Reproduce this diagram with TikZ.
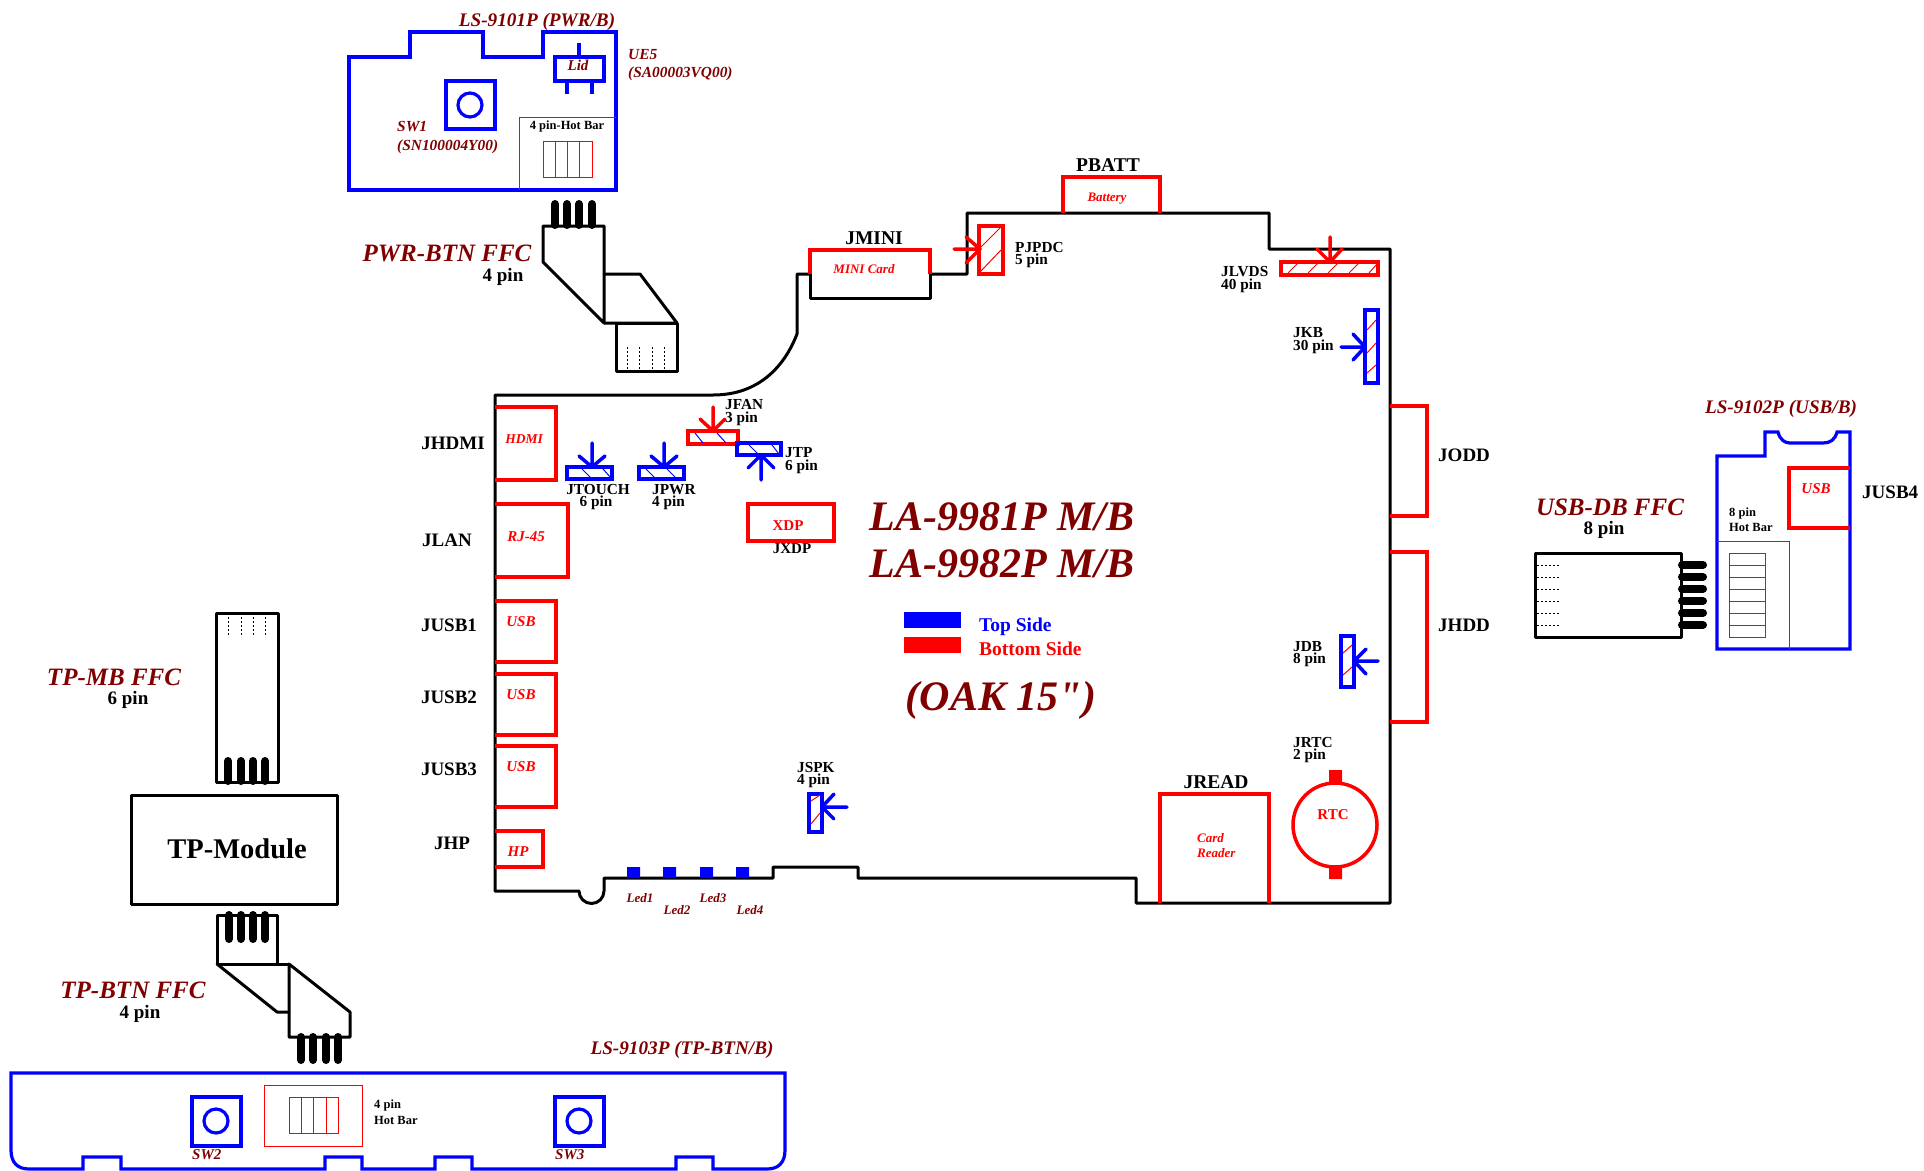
\documentclass[tikz,border=0pt]{standalone}
\usepackage{fontspec}
\setmainfont{Liberation Serif}
\newfontfamily\oakf{Liberation Serif}
\definecolor{dkred}{HTML}{800000}
\definecolor{pured}{HTML}{FF0000}
\definecolor{pureblue}{HTML}{0000FF}
\tikzset{
  txt/.style={inner sep=0pt,text height=#1*0.66pt,text depth=0pt},
  tb/.style={txt=#1,text=black,font=\bfseries\fontsize{#1}{#1}\selectfont},
  dr/.style={txt=#1,text=dkred,font=\bfseries\itshape\fontsize{#1}{#1}\selectfont},
  ri/.style={txt=#1,text=pured,font=\bfseries\itshape\fontsize{#1}{#1}\selectfont},
  rb/.style={txt=#1,text=pured,font=\bfseries\fontsize{#1}{#1}\selectfont},
  bb/.style={txt=#1,text=pureblue,font=\bfseries\fontsize{#1}{#1}\selectfont},
  blk/.style={draw=black,line width=3pt,line join=round,line cap=round},
  blu/.style={draw=pureblue,line width=3.2pt,line join=miter,line cap=square},
  rdl/.style={draw=pured,line width=3.2pt,line join=miter,line cap=butt},
  thinred/.style={draw=pured,line width=1pt},
  hatchr/.style={draw=pured,line width=1pt},
  hatchb/.style={draw=pureblue,line width=1pt},
  arrb/.style={draw=pureblue,line width=3.5pt,line cap=round,line join=round},
  arrr/.style={draw=pured,line width=3.5pt,line cap=round,line join=round},
  pinline/.style={draw=black,line width=8pt,line cap=round},
  ffcdash/.style={draw=black,line width=.8pt,dash pattern=on 2pt off 2pt},
}
\begin{document}
\begin{tikzpicture}[x=1pt,y=-1pt]
\useasboundingbox (0,0) rectangle (1924,1170);
% ---- main board outline
\draw[blk] (810,274) -- (797,274) -- (797,334) .. controls (785,365) and (760,395) .. (713,395)
  -- (495,395) -- (495,891) -- (579,891) arc[start angle=180,end angle=360,x radius=12.5,y radius=-12.5]
  -- (604,878) -- (773,878) -- (773,867) -- (858,867) -- (858,878) -- (1136,878) -- (1136,903)
  -- (1390,903) -- (1390,249) -- (1269,249) -- (1269,213) -- (967,213) -- (967,274) -- (930,274);
\draw[blk] (810,274) -- (810,298) -- (930,298) -- (930,274);
% ---- red edge connectors
\draw[rdl] (810,274) -- (810,250) -- (930,250) -- (930,274);
\draw[rdl] (1063,213) -- (1063,177) -- (1160,177) -- (1160,213);
\draw[rdl] (495,407) -- (556,407) -- (556,480) -- (495,480);
\draw[rdl] (495,504) -- (568,504) -- (568,577) -- (495,577);
\draw[rdl] (495,601) -- (556,601) -- (556,662) -- (495,662);
\draw[rdl] (495,674) -- (556,674) -- (556,735) -- (495,735);
\draw[rdl] (495,746) -- (556,746) -- (556,807) -- (495,807);
\draw[rdl] (495,831) -- (543,831) -- (543,867) -- (495,867);
\draw[rdl] (1390,406) -- (1427,406) -- (1427,516) -- (1390,516);
\draw[rdl] (1390,552) -- (1427,552) -- (1427,722) -- (1390,722);
\draw[rdl] (1160,903) -- (1160,794) -- (1269,794) -- (1269,903);
\draw[rdl] (748,504) rectangle (834,541);
\draw[draw=pured,line width=3.5pt] (1335,825) circle[radius=42];
\fill[pured] (1329,770) rectangle (1342,783) (1329,866) rectangle (1342,879);
% ---- LEDs and legend
\fill[pureblue] (627,867) rectangle (640,878) (663,867) rectangle (676,878) (700,867) rectangle (713,878) (736,867) rectangle (749,878);
\fill[pureblue] (904,612) rectangle (961,628);
\fill[pured] (904,637) rectangle (961,653);
% ---- small connectors
% PJPDC
\draw[rdl] (979,226) rectangle (1003,274);
\draw[hatchr] (980,248) -- (1001,227) (980,272) -- (1001,250);
\draw[arrr] (954,249) -- (980,249) (966,237) -- (980,249) -- (966,263);
% JLVDS
\draw[rdl] (1281,262) rectangle (1378,275);
\draw[hatchr] (1288,273) -- (1298,263) (1308,273) -- (1318,263) (1328,273) -- (1338,263) (1349,273) -- (1359,263) (1369,273) -- (1377,264);
\draw[arrr] (1330,237) -- (1330,262) (1317,249) -- (1330,262) -- (1342,249);
% JKB
\draw[blu] (1365,310) rectangle (1378,383);
\draw[hatchr] (1367,330) -- (1376,320) (1367,353) -- (1376,343) (1367,373) -- (1376,365);
\draw[arrb] (1341,347) -- (1365,347) (1353,334) -- (1365,347) -- (1353,360);
% JTOUCH
\draw[blu] (567,467) rectangle (612,479);
\draw[hatchb] (582,469) -- (591,478) (603,469) -- (611,478);
\draw[arrb] (592,443) -- (592,467) (579,456) -- (592,467) -- (605,456);
% JPWR
\draw[blu] (639,467) rectangle (684,479);
\draw[hatchb] (646,469) -- (655,478) (667,469) -- (676,478);
\draw[arrb] (664,443) -- (664,467) (651,456) -- (664,467) -- (677,456);
% JFAN
\draw[rdl] (688,431) rectangle (738,444);
\draw[hatchb] (695,433) -- (703,443) (717,433) -- (726,443);
\draw[arrr] (713,407) -- (713,431) (700,419) -- (713,431) -- (725,419);
% JTP
\draw[blu] (737,443) rectangle (781,455);
\draw[hatchb] (749,445) -- (758,454) (772,445) -- (779,454);
\draw[arrb] (761,480) -- (761,455) (748,468) -- (761,455) -- (774,468);
% JSPK
\draw[blu] (809,794) rectangle (822,832);
\draw[hatchr] (811,801) -- (820,795) (811,824) -- (820,813);
\draw[arrb] (847,807) -- (822,807) (834,794) -- (822,807) -- (834,819);
% JDB
\draw[blu] (1341,636) rectangle (1354,687);
\draw[hatchr] (1343,653) -- (1352,645) (1343,675) -- (1352,667);
\draw[arrb] (1378,661) -- (1354,661) (1366,649) -- (1354,661) -- (1366,674);
% ---- LS-9101P board
\draw[blu] (349,57) -- (410,57) -- (410,32) -- (483,32) -- (483,57) -- (543,57) -- (543,32) -- (616,32) -- (616,190) -- (349,190) -- cycle;
\draw[blu] (446,81) rectangle (495,129);
\draw[draw=pureblue,line width=3.2pt] (470,105) circle[radius=12];
\draw[blu] (555,57) rectangle (604,81);
\draw[blu] (579,43) -- (579,57) (567,81) -- (567,94) (592,81) -- (592,94);
\draw[thinred] (519,190) -- (519,117) -- (616,117);
\draw[thinred] (543,141) rectangle (592,177) (555,141) -- (555,177) (567,141) -- (567,177) (579,141) -- (579,177);
% PWR FFC
\draw[blk] (543,226) -- (604,226) -- (604,323) -- (543,262) -- cycle;
\draw[blk] (604,274) -- (640,274) -- (677,323) -- (604,323);
\draw[blk] (616,323) rectangle (677,371);
\draw[ffcdash] (627,347) -- (627,371) (639,347) -- (639,371) (652,347) -- (652,371) (664,347) -- (664,371);
\draw[pinline] (555,204) -- (555,225) (567,204) -- (567,225) (579,204) -- (579,225) (592,204) -- (592,225);
% ---- LS-9102P board
\draw[blu] (1717,456) -- (1765,456) -- (1765,432) -- (1778,432) .. controls (1780,440) and (1785,443) .. (1790,443) -- (1823,443) .. controls (1830,443) and (1835,440) .. (1837,432) -- (1850,432) -- (1850,649) -- (1717,649) -- cycle;
\draw[rdl] (1850,468) -- (1789,468) -- (1789,528) -- (1850,528);
\draw[thinred] (1717,541) -- (1789,541) -- (1789,649);
\draw[thinred] (1729,553) rectangle (1765,637) (1729,565) -- (1765,565) (1729,577) -- (1765,577) (1729,589) -- (1765,589) (1729,601) -- (1765,601) (1729,613) -- (1765,613) (1729,625) -- (1765,625);
% USB FFC
\draw[blk] (1535,553) rectangle (1681,637);
\draw[ffcdash] (1537,565) -- (1560,565) (1537,577) -- (1560,577) (1537,589) -- (1560,589) (1537,601) -- (1560,601) (1537,613) -- (1560,613) (1537,625) -- (1560,625);
\draw[pinline] (1682,565) -- (1703,565) (1682,577) -- (1703,577) (1682,589) -- (1703,589) (1682,601) -- (1703,601) (1682,613) -- (1703,613) (1682,625) -- (1703,625);
% ---- TP module and FFCs
\draw[blk] (131,795) rectangle (337,904);
\draw[blk] (216,613) rectangle (278,782);
\draw[ffcdash] (228,613) -- (228,637) (241,613) -- (241,637) (253,613) -- (253,637) (265,613) -- (265,637);
\draw[pinline] (228,761) -- (228,781) (241,761) -- (241,781) (253,761) -- (253,781) (265,761) -- (265,781);
\draw[blk] (217,915) rectangle (277,964);
\draw[pinline] (229,915) -- (229,939) (241,915) -- (241,939) (253,915) -- (253,939) (265,915) -- (265,939);
\draw[blk] (277,964) -- (289,964);
\draw[blk] (217,964) -- (277,1012) -- (289,1012);
\draw[blk] (289,964) -- (350,1012) -- (350,1037) -- (289,1037) -- cycle;
\draw[pinline] (301,1037) -- (301,1060) (313,1037) -- (313,1060) (326,1037) -- (326,1060) (338,1037) -- (338,1060);
% ---- LS-9103P board
\draw[blu] (11,1073) -- (785,1073) -- (785,1150) .. controls (785,1162) and (779,1169) .. (767,1169) -- (713,1169) -- (713,1157) -- (676,1157) -- (676,1169) -- (472,1169) -- (472,1157) -- (435,1157) -- (435,1169) -- (362,1169) -- (362,1157) -- (325,1157) -- (325,1169) -- (121,1169) -- (121,1157) -- (83,1157) -- (83,1169) -- (29,1169) .. controls (17,1169) and (11,1162) .. (11,1150) -- cycle;
\draw[blu] (192,1097) rectangle (241,1146);
\draw[draw=pureblue,line width=3.2pt] (216,1121) circle[radius=12];
\draw[blu] (555,1097) rectangle (604,1146);
\draw[draw=pureblue,line width=3.2pt] (579,1121) circle[radius=12];
\draw[thinred] (264,1085) rectangle (362,1146);
\draw[thinred] (289,1097) rectangle (338,1133) (301,1097) -- (301,1133) (313,1097) -- (313,1133) (326,1097) -- (326,1133);
% ---- texts: top board
\node[dr=19.2] (t1) at (537,20) {LS-9101P (PWR/B)};
\node[dr=15.4,anchor=west] (t2) at (628,54) {UE5};
\node[dr=15.4,anchor=west] (t3) at (628,72) {(SA00003VQ00)};
\node[dr=15.4,anchor=west] (t4) at (397,126) {SW1};
\node[dr=15.4,anchor=west] (t5) at (397,145) {(SN100004Y00)};
\node[dr=15] (t6) at (578,66) {Lid};
\node[tb=12.5] (t7) at (567,125) {4 pin-Hot Bar};
\node[dr=25] (t8) at (447,253) {PWR-BTN FFC};
\node[tb=19] (t9) at (503,275) {4 pin};
% top edge
\node[tb=19.5] (t10) at (1108,165) {PBATT};
\node[tb=19.5] (t11) at (874,238) {JMINI};
\node[ri=13] (t12) at (864,269) {MINI Card};
\node[ri=13] (t13) at (1107,197) {Battery};
\node[tb=15.3,anchor=west] (t14) at (1015,247) {PJPDC};
\node[tb=15.3,anchor=west] (t15) at (1015,259) {5 pin};
\node[tb=15.3,anchor=west] (t16) at (1221,271) {JLVDS};
\node[tb=15.3,anchor=west] (t17) at (1221,284) {40 pin};
\node[tb=15.3,anchor=west] (t18) at (1293,332) {JKB};
\node[tb=15.3,anchor=west] (t19) at (1293,345) {30 pin};
% mid connectors
\node[tb=15.3,anchor=west] (t20) at (725,404) {JFAN};
\node[tb=15.3,anchor=west] (t21) at (725,417) {3 pin};
\node[tb=15.3,anchor=west] (t22) at (785,452) {JTP};
\node[tb=15.3,anchor=west] (t23) at (785,465) {6 pin};
\node[tb=15.3] (t24) at (598,489) {JTOUCH};
\node[tb=15.3] (t25) at (596,501) {6 pin};
\node[tb=15.3,anchor=west] (t26) at (652,489) {JPWR};
\node[tb=15.3,anchor=west] (t27) at (652,501) {4 pin};
\node[rb=15] (t28) at (788,526) {XDP};
\node[tb=15] (t29) at (792,549) {JXDP};
% left labels
\node[tb=19] (t30) at (453,443) {JHDMI};
\node[tb=19] (t31) at (447,540) {JLAN};
\node[tb=19] (t32) at (449,625) {JUSB1};
\node[tb=19] (t33) at (449,697) {JUSB2};
\node[tb=19] (t34) at (449,769) {JUSB3};
\node[tb=19] (t35) at (452,843) {JHP};
\node[ri=13.5] (t36) at (524,439) {HDMI};
\node[ri=15] (t37) at (526,537) {RJ-45};
\node[ri=15] (t38) at (521,622) {USB};
\node[ri=15] (t39) at (521,695) {USB};
\node[ri=15] (t40) at (521,767) {USB};
\node[ri=15] (t41) at (518,852) {HP};
% LEDs
\node[dr=13] (t42) at (640,898) {Led1};
\node[dr=13] (t43) at (677,910) {Led2};
\node[dr=13] (t44) at (713,898) {Led3};
\node[dr=13] (t45) at (750,910) {Led4};
\node[tb=15.3,anchor=west] (t46) at (797,767) {JSPK};
\node[tb=15.3,anchor=west] (t47) at (797,779) {4 pin};
% centre
\node[dr=42] (t48) at (1002,517) {LA-9981P M/B};
\node[dr=42] (t49) at (1002,564) {LA-9982P M/B};
\node[bb=19.5,anchor=west] (t50) at (979,625) {Top Side};
\node[rb=19.5,anchor=west] (t51) at (979,649) {Bottom Side};
\node[dr=42] (t52) at (1001,697) {\oakf (OAK 15")};
% right
\node[tb=15.3,anchor=west] (t53) at (1293,646) {JDB};
\node[tb=15.3,anchor=west] (t54) at (1293,658) {8 pin};
\node[tb=15.3,anchor=west] (t55) at (1293,742) {JRTC};
\node[tb=15.3,anchor=west] (t56) at (1293,754) {2 pin};
\node[tb=19.5] (t57) at (1216,782) {JREAD};
\node[ri=13,anchor=west] (t58) at (1197,838) {Card};
\node[ri=13,anchor=west] (t59) at (1197,853) {Reader};
\node[rb=15] (t60) at (1333,815) {RTC};
\node[tb=19,anchor=west] (t61) at (1438,455) {JODD};
\node[tb=19,anchor=west] (t62) at (1438,625) {JHDD};
\node[dr=19.2] (t63) at (1781,407) {LS-9102P (USB/B)};
\node[ri=15] (t64) at (1816,489) {USB};
\node[tb=19,anchor=west] (t65) at (1862,492) {JUSB4};
\node[tb=12.5,anchor=west] (t66) at (1729,512) {8 pin};
\node[tb=12.5,anchor=west] (t67) at (1729,527) {Hot Bar};
\node[dr=25] (t68) at (1610,507) {USB-DB FFC};
\node[tb=19] (t69) at (1604,528) {8 pin};
% left side
\node[tb=28.5] (t70) at (237,849) {TP-Module};
\node[dr=25] (t71) at (114,677) {TP-MB FFC};
\node[tb=19] (t72) at (128,698) {6 pin};
\node[dr=25] (t73) at (133,990) {TP-BTN FFC};
\node[tb=19] (t74) at (140,1012) {4 pin};
\node[dr=19.2] (t75) at (682,1048) {LS-9103P (TP-BTN/B)};
\node[tb=12.5,anchor=west] (t76) at (374,1104) {4 pin};
\node[tb=12.5,anchor=west] (t77) at (374,1120) {Hot Bar};
\node[dr=15,anchor=west] (t78) at (192,1155) {SW2};
\node[dr=15,anchor=west] (t79) at (555,1155) {SW3};
\end{tikzpicture}
\end{document}
